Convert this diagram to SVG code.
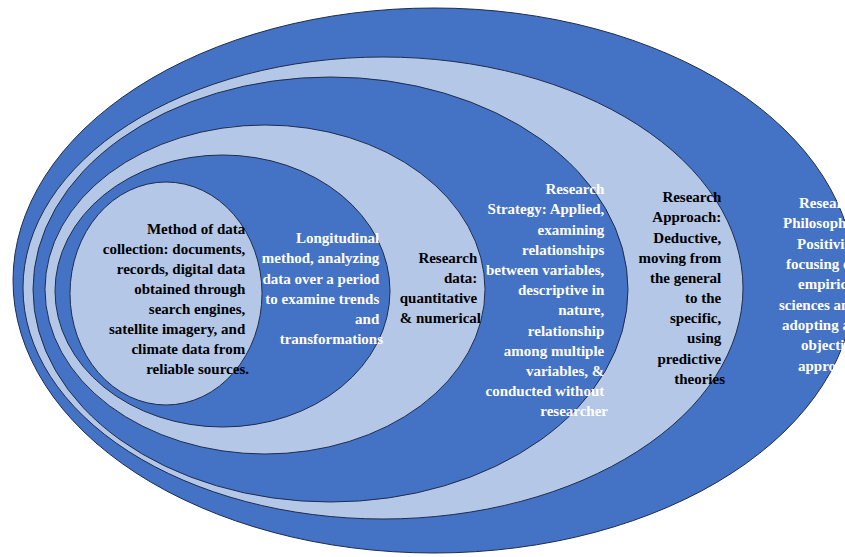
<svg xmlns="http://www.w3.org/2000/svg" width="845" height="557" viewBox="0 0 845 557">
<style>
.dark{fill:#4472C4;stroke:#1F2D4D;stroke-width:1}
.light{fill:#B4C7E7;stroke:#1F2D4D;stroke-width:1}
text{font-family:"Liberation Serif","Times New Roman",serif;font-size:15px;font-weight:bold}
.w{fill:#FFFFFF}
.b{fill:#000000}
.r{text-anchor:end}
</style>
<rect x="0" y="0" width="845" height="557" fill="#FFFFFF"/>
<g id="connectors"></g>
<g id="node-philosophy">
<ellipse class="dark" cx="434" cy="280.5" rx="421" ry="272.5"/>
<text class="w">
<tspan x="799" y="208">Research</tspan>
<tspan x="783" y="228">Philosophy:</tspan>
<tspan x="797" y="249">Positivism,</tspan>
<tspan x="786" y="269">focusing on</tspan>
<tspan x="798" y="289">empirical</tspan>
<tspan x="779" y="310">sciences and</tspan>
<tspan x="782" y="330">adopting an</tspan>
<tspan x="801" y="350">objective</tspan>
<tspan x="798" y="371">approach</tspan>
</text>
</g>
<g id="node-approach">
<ellipse class="light" cx="383" cy="288" rx="360" ry="231"/>
<text class="b r">
<tspan x="725" y="202">Research</tspan>
<tspan x="725" y="222">Approach:</tspan>
<tspan x="725" y="243">Deductive,</tspan>
<tspan x="725" y="263">moving from</tspan>
<tspan x="725" y="283">the general</tspan>
<tspan x="725" y="303">to the</tspan>
<tspan x="725" y="323">specific,</tspan>
<tspan x="725" y="343">using</tspan>
<tspan x="725" y="364">predictive</tspan>
<tspan x="725" y="384">theories</tspan>
</text>
</g>
<g id="node-strategy">
<ellipse class="dark" cx="330.5" cy="289.5" rx="297.5" ry="212.5"/>
<text class="w r">
<tspan x="608" y="194">Research</tspan>
<tspan x="608" y="214">Strategy: Applied,</tspan>
<tspan x="608" y="234.5">examining</tspan>
<tspan x="608" y="254.5">relationships</tspan>
<tspan x="608" y="275">between variables,</tspan>
<tspan x="608" y="295">descriptive in</tspan>
<tspan x="608" y="315">nature,</tspan>
<tspan x="608" y="335.5">relationship</tspan>
<tspan x="608" y="355.5">among multiple</tspan>
<tspan x="608" y="375.5">variables, &amp;</tspan>
<tspan x="608" y="395.5">conducted without</tspan>
<tspan x="608" y="415.5">researcher</tspan>
</text>
</g>
<g id="node-data">
<ellipse class="light" cx="265" cy="289.5" rx="220" ry="164.5"/>
<text class="b r">
<tspan x="481" y="263">Research</tspan>
<tspan x="481" y="283">data:</tspan>
<tspan x="481" y="303">quantitative</tspan>
<tspan x="481" y="323">&amp; numerical</tspan>
</text>
</g>
<g id="node-longitudinal">
<ellipse class="dark" cx="222.5" cy="291" rx="167.5" ry="136"/>
<text class="w r">
<tspan x="383" y="243">Longitudinal</tspan>
<tspan x="383" y="263">method, analyzing</tspan>
<tspan x="383" y="283.5">data over a period</tspan>
<tspan x="383" y="304">to examine trends</tspan>
<tspan x="383" y="324">and</tspan>
<tspan x="383" y="344">transformations</tspan>
</text>
</g>
<g id="node-method">
<ellipse class="light" cx="166" cy="293.5" rx="96" ry="111.5"/>
<text class="b r">
<tspan x="249" y="234">Method of data</tspan>
<tspan x="249" y="254">collection: documents,</tspan>
<tspan x="249" y="274">records, digital data</tspan>
<tspan x="249" y="294">obtained through</tspan>
<tspan x="249" y="314">search engines,</tspan>
<tspan x="249" y="334">satellite imagery, and</tspan>
<tspan x="249" y="354">climate data from</tspan>
<tspan x="249" y="374">reliable sources.</tspan>
</text>
</g>
</svg>
